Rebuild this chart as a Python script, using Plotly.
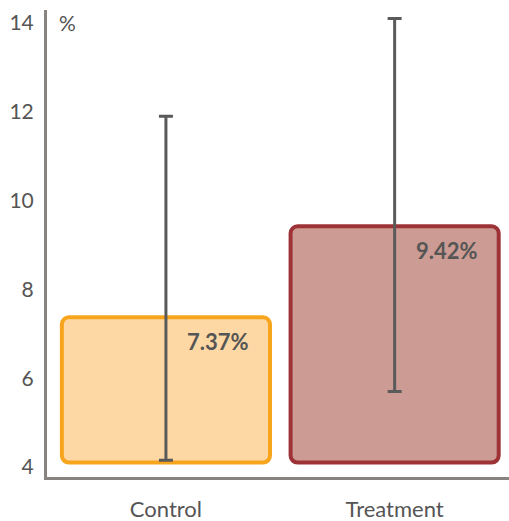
import plotly.graph_objects as go

# ---- data ----
categories = ["Control", "Treatment"]
values = [7.37, 9.42]
value_labels = ["7.37%", "9.42%"]
err_lower = [4.15, 5.7]
err_upper = [11.9, 14.1]
y_tick_vals = [4, 6, 8, 10, 12, 14]
y_tick_text = ["4", "6", "8", "10", "12", "14"]
unit_label = "%"

# ---- styles ----
fill_colors = ["#FDD7A4", "#CC9B94"]
line_colors = ["#F8A51E", "#9E3337"]
AXIS_COLOR = "#88837E"
TEXT_COLOR = "#555555"
ERR_COLOR = "#5A5A5A"
FONT = "Lato"
BAR_BASE = 4.1
BAR_WIDTH = 0.91
BORDER = 4

fig = go.Figure()

fig.add_trace(go.Bar(
    x=categories, y=[v - BAR_BASE for v in values], base=BAR_BASE,
    width=[BAR_WIDTH] * len(categories),
    marker=dict(color=fill_colors, line=dict(color=line_colors, width=BORDER), cornerradius=7),
    hoverinfo="skip", showlegend=False,
))

# error bars
fig.add_trace(go.Scatter(
    x=categories, y=values, mode="markers",
    marker=dict(size=1, opacity=0),
    error_y=dict(
        type="data", symmetric=False,
        array=[u - v for u, v in zip(err_upper, values)],
        arrayminus=[v - l for v, l in zip(values, err_lower)],
        color=ERR_COLOR, thickness=3, width=7,
    ),
    hoverinfo="skip", showlegend=False,
))

for c, v, t in zip(categories, values, value_labels):
    fig.add_annotation(
        x=c, y=v, text=f"<b>{t}</b>", showarrow=False,
        xshift=52, yshift=-24, yanchor="middle",
        font=dict(family=FONT, size=22, color=TEXT_COLOR),
    )

fig.add_annotation(
    xref="paper", x=0, y=14, text=unit_label, showarrow=False,
    xanchor="left", xshift=10, yanchor="middle",
    font=dict(family=FONT, size=21, color=TEXT_COLOR),
)

fig.update_layout(
    width=509, height=521,
    margin=dict(l=47, r=0, t=10, b=44, autoexpand=False),
    barmode="overlay",
    plot_bgcolor="white", paper_bgcolor="white",
    font=dict(family=FONT, color=TEXT_COLOR),
)
fig.update_xaxes(
    range=[-0.52, 1.5],
    showline=True, linecolor=AXIS_COLOR, linewidth=3,
    showgrid=False, zeroline=False, ticks="",
    tickfont=dict(family=FONT, size=22, color=TEXT_COLOR),
    ticklabelstandoff=11, automargin=False,
)
fig.update_yaxes(
    range=[3.775, 14.29],
    tickvals=y_tick_vals, ticktext=y_tick_text,
    showline=True, linecolor=AXIS_COLOR, linewidth=3,
    showgrid=False, zeroline=False, ticks="",
    tickfont=dict(family=FONT, size=21, color=TEXT_COLOR),
    ticklabelstandoff=6, automargin=False,
)

# remove the default page margin so the 509x521 figure fills the window exactly
fig.write_html("out.html", config={"displayModeBar": False},
               post_script="document.body.style.margin='0';")
